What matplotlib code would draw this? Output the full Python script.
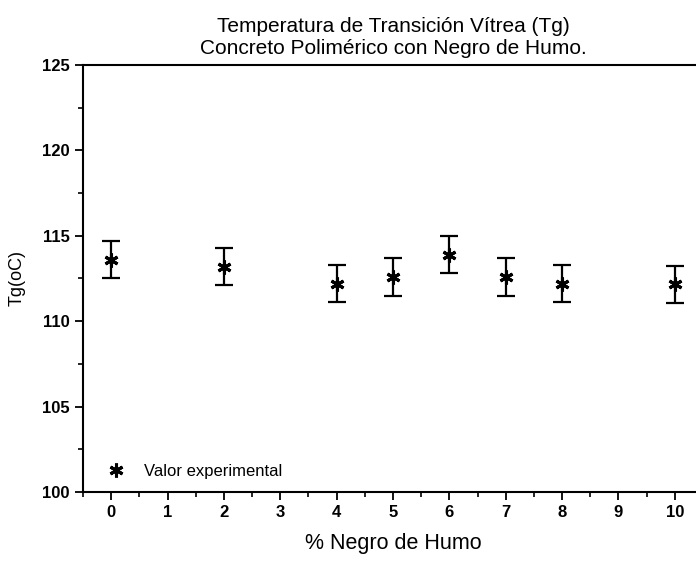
import matplotlib
matplotlib.use("Agg")
import matplotlib.pyplot as plt
from matplotlib.ticker import MultipleLocator

plt.rcParams['font.family'] = ['Liberation Sans', 'DejaVu Sans']

pct = [0, 2, 4, 5, 6, 7, 8, 10]
tg = [113.6, 113.2, 112.2, 112.6, 113.9, 112.6, 112.2, 112.15]
err = [1.1, 1.1, 1.1, 1.1, 1.1, 1.1, 1.1, 1.1]
xticks = list(range(0, 11))
yticks = [100, 105, 110, 115, 120, 125]

fig = plt.figure(figsize=(6.96, 5.62), dpi=100)
ax = fig.add_axes([83/696, 1-492/562, (696-83)/696 + 0.01, (492-65)/562])

ax.errorbar(pct, tg, yerr=err, fmt='none', ecolor='black', elinewidth=1.6,
            capsize=6.5, capthick=1.6)
ax.plot(pct, tg, linestyle='none', marker=(6, 2, 0), markersize=10,
        markeredgewidth=2.2, color='black', label='Valor experimental')

ax.set_xlim(-0.5, 10.5)
ax.set_ylim(100, 125)
ax.set_xticks(xticks)
ax.set_yticks(yticks)
ax.xaxis.set_minor_locator(MultipleLocator(0.5))
ax.yaxis.set_minor_locator(MultipleLocator(2.5))
ax.tick_params(which='major', direction='out', length=6, width=1.3,
               labelsize=12, top=False, right=False)
ax.tick_params(which='minor', direction='out', length=3.5, width=1.2,
               top=False, right=False)
for lab in ax.get_xticklabels() + ax.get_yticklabels():
    lab.set_fontweight('bold')
for s in ax.spines.values():
    s.set_linewidth(1.5)

ax.set_xlabel('% Negro de Humo', fontsize=15.5, labelpad=9)
ax.set_ylabel('Tg(oC)', fontsize=13, labelpad=12)
ax.set_title('Temperatura de Transición Vítrea (Tg)\nConcreto Polimérico con Negro de Humo.',
             fontsize=15, pad=8, linespacing=1.2)

ax.legend(loc='lower left', frameon=False, fontsize=12, handletextpad=0.7,
          borderaxespad=0.4, bbox_to_anchor=(0.005, 0.0))

fig.savefig('out.png', dpi=100)
